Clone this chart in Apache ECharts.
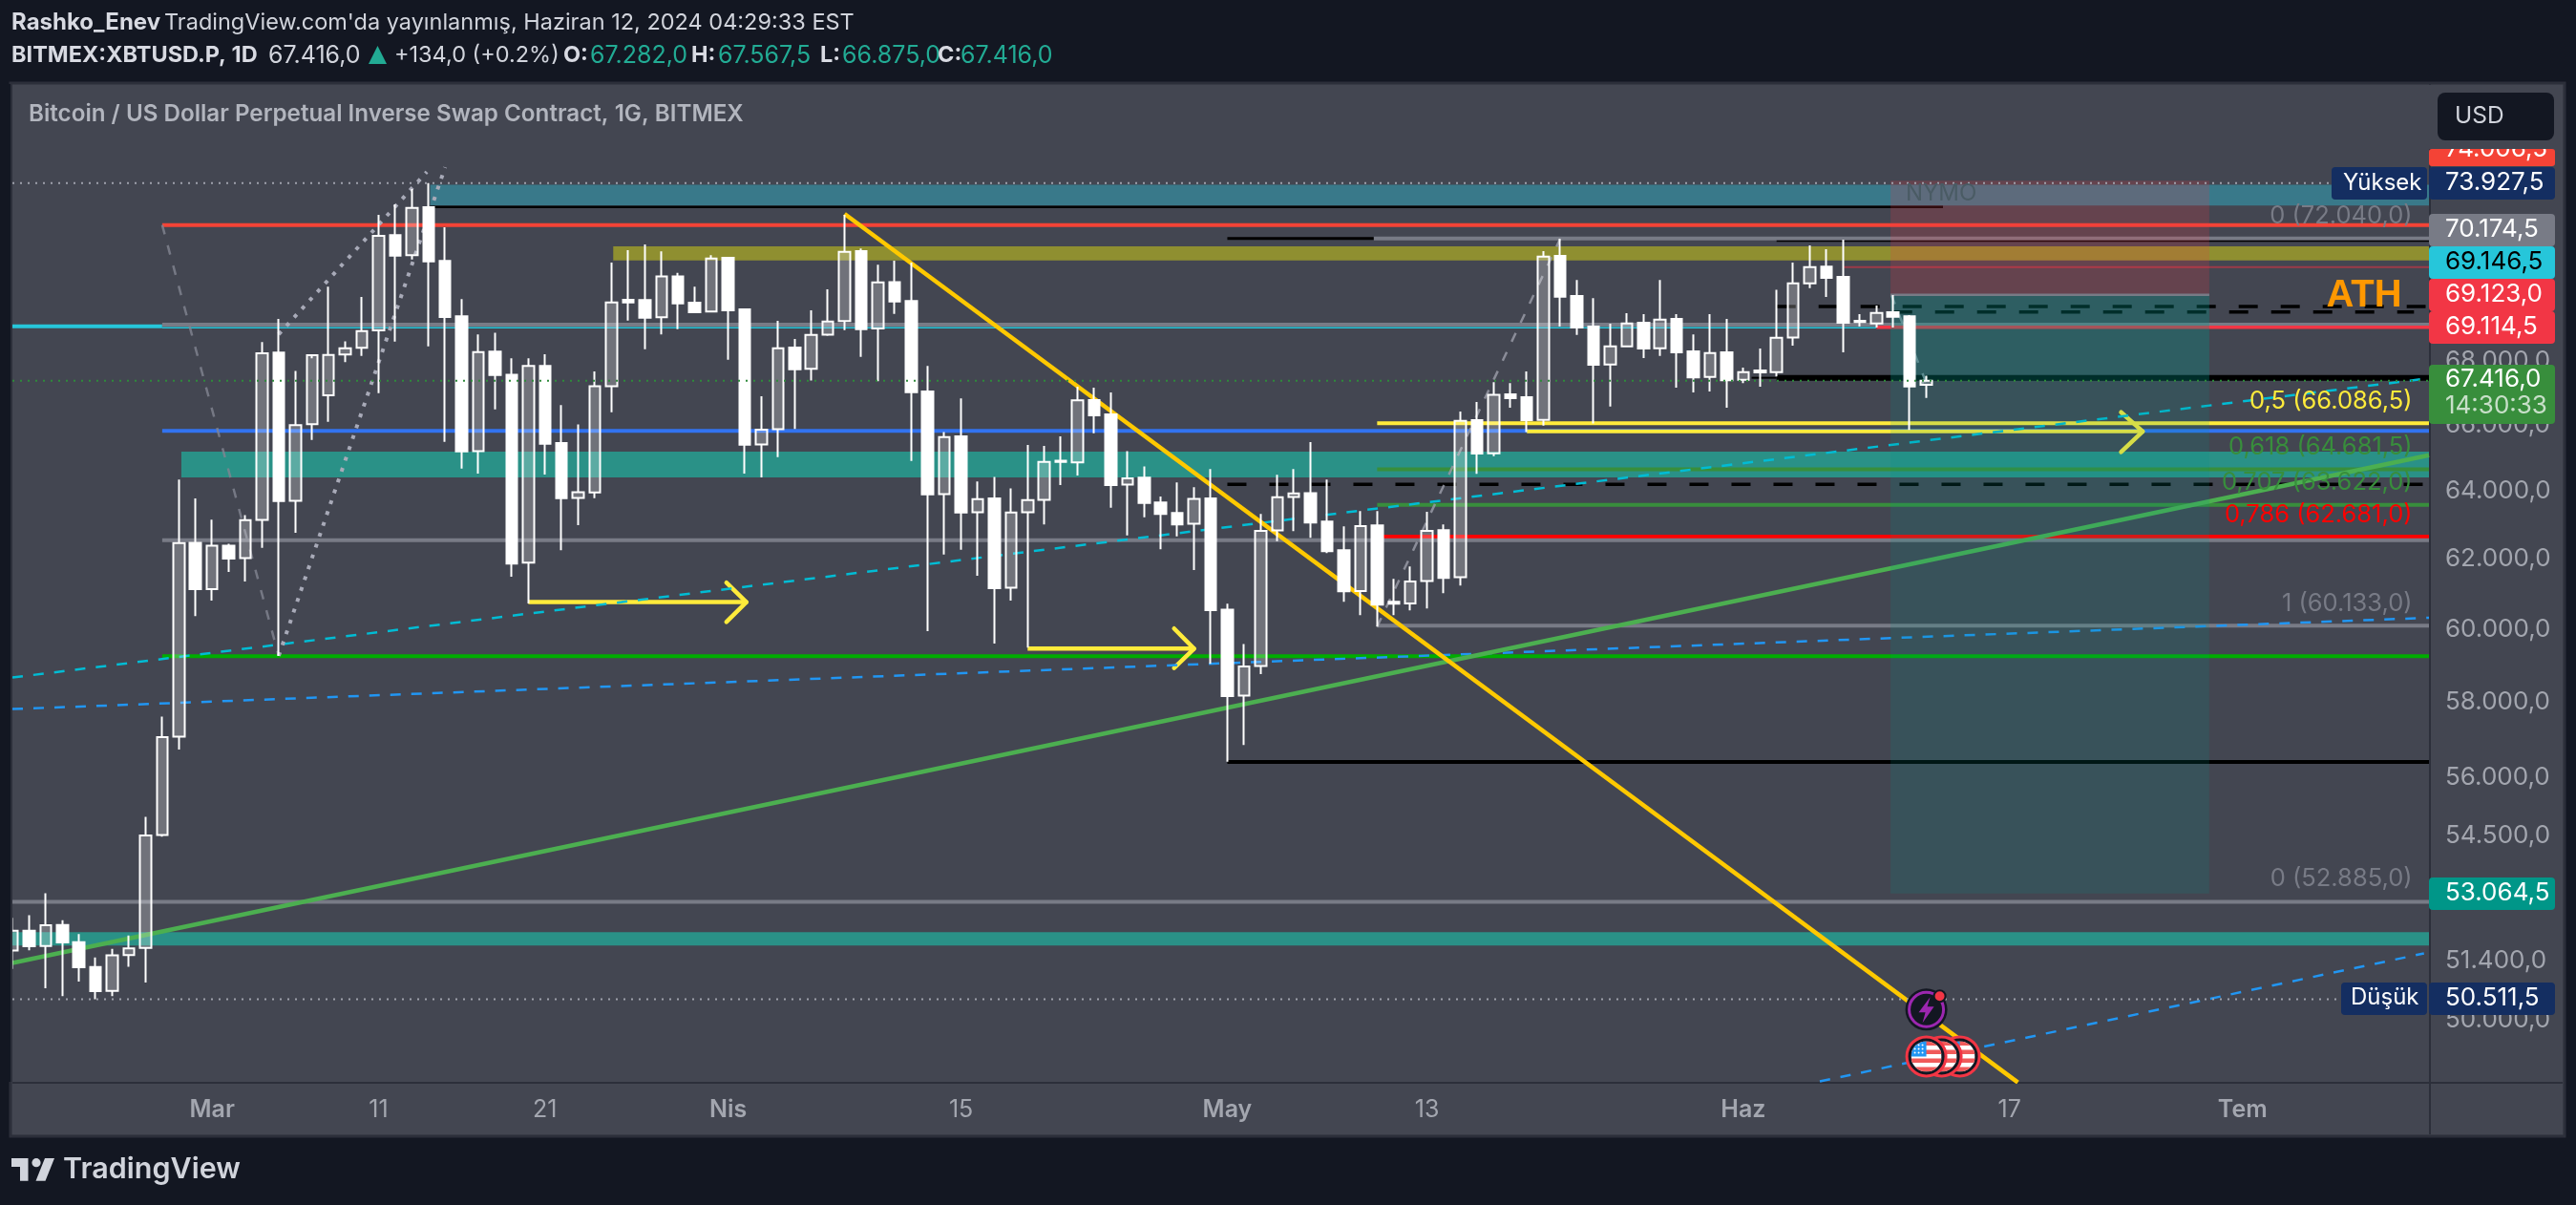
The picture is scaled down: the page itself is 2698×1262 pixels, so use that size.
<!DOCTYPE html>
<html>
<head>
<meta charset="utf-8">
<title>XBTUSD.P 1D</title>
<style>html,body{margin:0;padding:0;background:#131722}#chart{width:2698px;height:1262px}</style>
<script src="https://cdn.jsdelivr.net/npm/echarts@6/dist/echarts.min.js"></script>
</head>
<body>
<div id="chart"></div>
<script>
// daily bars, first bar 2024-02-18, last bar 2024-06-12
var startDate = "2024-02-18";
var opens = [51672,52154,51783,52293,51875,51277,50709,51563,51734,54531,57094,62503,
    61168,62420,62058,63174,68302,63742,66063,66954,68241,68454,69013,72150,71480,73101,71289,69470,65237,68333,67604,61928,67878,65478,63827,63986,67242,70007,69998,69439,70774,69914,69625,
    71394,69697,65440,65906,68463,67786,68880,69314,71616,69075,70591,69967,67073,63941,65682,63401,63807,61206,63401,63770,64946,64896,66806,66360,64225,64432,63691,63381,63060,63807,
    60581,58199,59007,62865,63856,63969,63126,62289,61113,63012,60806,60760,61396,62873,61505,66182,65168,66984,66895,66191,71458,70132,69137,67926,68503,69262,68442,69386,68342,67531,68311,67440,67735,67683,68789,70547,71099,70760,69324,69240,69603,69470,67282];
var closes = [52154,51774,52284,51865,51268,50699,51556,51725,54522,57084,62492,61168,
    62420,62047,63163,68281,63731,66034,68221,68229,68442,68991,72128,71467,73079,71276,69448,65226,68321,67592,61900,67878,65458,63816,63998,67242,69923,69923,69425,70774,69892,69603,71371,
    69666,65429,65894,68442,67774,68868,69302,71594,69053,70579,69954,67052,63929,65661,63390,63787,61195,63390,63759,64905,64905,66797,66331,64213,64412,63674,63353,63040,63799,60570,
    58189,58996,62854,63844,63958,63097,62261,61105,62992,60725,60752,61385,62854,61486,66161,65159,66975,66865,66182,71435,70110,69106,67917,68503,69240,68432,69365,68311,67522,68290,67431,67683,67674,68777,70547,71086,70728,69262,69283,69582,69458,67230,67416];
var lows = [51231,51679,50768,50585,50927,50511,50585,51284,50905,54490,56754,60398,
    60841,61658,61385,62353,59289,62798,65574,66131,67999,68199,67022,68655,71340,68503,65516,64702,64557,66517,61521,60760,64528,62289,63021,63816,66429,69333,68412,68889,69053,69600,69625,
    68077,64557,64441,65051,65915,67422,68837,69022,68168,67400,69551,64935,59979,62158,62297,61549,59634,60841,59520,63040,64213,64499,65778,63532,62715,63248,62317,62687,61714,59068,
    56434,56873,58787,62548,62845,62651,62206,60807,60425,60104,60425,60561,60617,61051,61268,64548,65080,66568,65818,66013,69137,68868,66084,66607,68473,68129,68199,67192,67043,67073,66568,67340,67222,67552,68524,70389,70101,68311,69137,69106,69106,65885,66875];
var highs = [52463,52532,53074,52409,52068,51504,51711,52036,55000,57635,64375,63807,
    63183,62475,63316,68637,69386,67725,68120,70442,68667,70101,72842,73199,73720,73927.5,72420,70029,68889,68942,68120,68120,68251,66649,66054,67704,71235,71648,71839,71607,70898,70442,71480,
    71394,69719,66925,69324,68737,69666,70349,72842,71702,71162,71299,71235,67878,65818,66856,64318,64452,64111,65420,65391,65682,67222,67192,67043,65237,64772,63864,64290,64148,64693,
    60752,59618,63353,64519,64693,65507,64375,62984,63438,63438,61459,61817,63410,63040,66449,66746,67370,67340,67704,71616,72030,70655,70060,69230,69572,69541,70655,69541,68889,69541,69386,67826,68433,70340,71235,71807,71680,71998,69541,69821,70163,69510,67567.5];

// price axis labels
var priceTicks = [68000,66000,64000,62000,60000,58000,56000,54500,53000,51400,50000];
var priceTickLabels = ["68.000,0","66.000,0","64.000,0","62.000,0","60.000,0","58.000,0","56.000,0","54.500,0","53.000,0","51.400,0","50.000,0"];
// time axis labels, days after 1 March
var timeTicks = [0,10,20,31,45,61,73,92,108,122];
var timeTickLabels = ["Mar","11","21","Nis","15","May","13","Haz","17","Tem"];
var monthLabels = ["Mar","Nis","May","Haz","Tem"];
// fib levels
var fibLevels = [72040,66086.5,64681.5,63622,62681,60133,52885];
var fibLabels = ["0 (72.040,0)","0,5 (66.086,5)","0,618 (64.681,5)","0,707 (63.622,0)","0,786 (62.681,0)","1 (60.133,0)","0 (52.885,0)"];
var fibColors = ["#787b86","#ffeb3b","#388e3c","#388e3c","#ff0000","#787b86","#787b86"];
// position tool levels
var stopPrice = 74006.5, entryPrice = 70174.5, targetPrice = 53064.5, lastPrice = 67416;
var highPrice = 73927.5, lowPrice = 50511.5;

var DAY = 86400000;
var MAR1 = Date.UTC(2024,2,1);
var dayMin = -12, dayMax = 133.2;
var FONT = "Inter";
function T(d){ return MAR1 + d*DAY; }

var candleData = [];
for(var i=0;i<opens.length;i++){
    candleData.push([Date.parse(startDate+"T00:00:00Z")+i*DAY, opens[i], closes[i], lows[i], highs[i]]);
}

var series = [];
// straight line drawn by price + day
function seg(d0,p0,d1,p1,color,width,dash,z,cap){
    series.push({
        type:"line", silent:true, animation:false, symbol:"none", z:z||3, clip:true,
        data:[[T(d0),p0],[T(d1),p1]],
        lineStyle:{color:color,width:width,type:dash||"solid",cap:cap||"butt"}
    });
}
// filled price zones
function zone(d0,d1,p0,p1,color,z){
    series.push({
        type:"custom", silent:true, animation:false, z:z||2, clip:true,
        data:[[T(d0),p0,T(d1),p1]],
        renderItem:function(params,api){
            var a = api.coord([api.value(0),api.value(1)]);
            var b = api.coord([api.value(2),api.value(3)]);
            return {type:"rect",shape:{x:a[0],y:b[1],width:b[0]-a[0],height:a[1]-b[1]},style:{fill:color}};
        }
    });
}

var GRAY = "#787b86", YELLOW = "#ffeb3b", BLACK = "#000000";
zone(13.1,dayMax,73157,73874,"#39798a");
zone(24.1,dayMax,71308,71776,"#8f8f30");
zone(-1.85,dayMax,64441,65216,"#2a9187");
zone(dayMin,dayMax,51795,52115,"#2a9187");

seg(13.1,73112,104,73112,BLACK,2.5);
seg(-3,72494,dayMax,72494,"#f44336",4);
seg(61,72040,69.8,72040,BLACK,3);
seg(69.8,72040,dayMax,72040,GRAY,4);
seg(94,71957,dayMax,71957,BLACK,1.5);
seg(98,71086,dayMax,71086,"#9c3b48",2);
seg(94,69790,133,69790,BLACK,3.5,[20,24]);
seg(101,69613,132.3,69613,BLACK,3.5,[20,24]);
seg(dayMin,69146.5,-3,69146.5,"#26c6da",4);
seg(-3,69200,dayMax,69200,GRAY,4);
seg(-3,69105,100,69105,"#26c6da",1.5);
seg(100,69114.5,dayMax,69114.5,"#f23645",3.5);
seg(92.5,67506,94,67506,BLACK,2);
seg(94,67506,dayMax,67506,BLACK,6);
seg(-3,65856,dayMax,65856,"#3273f0",4);
seg(70,66086.5,dayMax,66086.5,YELLOW,4);
seg(79,65836,116,65836,YELLOW,4);
seg(114.7,66429,116,65836,YELLOW,4.5,"solid",3,"round");
seg(116,65836,114.7,65208,YELLOW,4.5,"solid",3,"round");
seg(70,64681.5,dayMax,64681.5,"#388e3c",4);
seg(70,63622,dayMax,63622,"#388e3c",4);
seg(61,64233,133,64233,BLACK,3.5,[20,24]);
seg(70,62681,dayMax,62681,"#ff0000",4);
seg(-3,62577,dayMax,62577,GRAY,4);
seg(70,60133,dayMax,60133,GRAY,4);
seg(-3,59281,dayMax,59281,"#00ad00",4);
seg(61,56423,dayMax,56423,BLACK,4);
seg(dayMin,52861,dayMax,52861,GRAY,4);
// arrows
seg(19,60795,32.1,60795,YELLOW,4.5);
seg(30.9,61350,32.1,60795,YELLOW,4.5,"solid",3,"round");
seg(32.1,60795,30.9,60236,YELLOW,4.5,"solid",3,"round");
seg(49,59490,59,59490,YELLOW,4.5);
seg(57.8,60051,59,59490,YELLOW,4.5,"solid",3,"round");
seg(59,59490,57.8,58952,YELLOW,4.5,"solid",3,"round");
// trend lines
seg(dayMin,58693,dayMax,67490,"#00bcd4",2.5,[11,11]);
seg(dayMin,57835,dayMax,60353,"#2196f3",2.5,[11,11]);
seg(96.6,48610,132.9,51602,"#2196f3",2.5,[11,11]);
seg(dayMin,51374,dayMax,65109,"#4caf50",4.5);
seg(38,72874,108.5,48587,"#ffc900",4.5);
seg(-3,72494,4,59289,"rgba(130,133,145,.8)",2.5,[10,12]);
seg(4,59289,14,74480,"#a8aab8",4,[4,8]);
seg(4,68889,12.9,74315,"#a8aab8",4,[4,8]);
seg(70,60104,81,72030,"rgba(150,153,165,.85)",2.5,[10,12]);
seg(100.9,70156,103,67340,"rgba(150,153,165,.85)",2.5,[10,12]);
seg(102.7,67280,103.3,67793,"rgba(150,153,165,.85)",2.5,[10,12]);

// position tool
zone(100.85,120,entryPrice,stopPrice,"rgba(242,54,69,.2)",4);
zone(100.85,120,lastPrice,entryPrice,"rgba(0,150,136,.31)",4);
zone(100.85,120,targetPrice,lastPrice,"rgba(0,150,136,.16)",4);
seg(100.85,entryPrice,120,entryPrice,GRAY,2.5,"solid",4);

// candles stay on top of the drawings
series.push({
    type:"candlestick", name:"XBTUSD.P", animation:false, silent:true, z:6,
    barWidth:12,
    encode:{x:0,y:[1,2,3,4]},
    data:candleData,
    itemStyle:{color:"rgba(255,255,255,.24)",color0:"#ffffff",borderColor:"#ffffff",borderColor0:"#ffffff",borderWidth:2}
});

seg(dayMin,lastPrice,dayMax,lastPrice,"#2e8b3a",2,[2,6],7);
seg(dayMin,highPrice,127.4,highPrice,"#9fa1ac",2,[2,6],7);
seg(dayMin,lowPrice,127.9,lowPrice,"#9fa1ac",2,[2,6],7);

// price axis labels
series.push({
    type:"custom", silent:true, animation:false, z:9,
    data:priceTicks.map(function(p){ return [T(dayMax),p]; }),
    renderItem:function(params,api){
        var pt = api.coord([api.value(0),api.value(1)]);
        return {type:"text",style:{text:priceTickLabels[params.dataIndex],x:pt[0]+17,y:pt[1]-1,verticalAlign:"middle",fill:"#a3a6af",font:"26px "+FONT}};
    }
});
// time axis labels
series.push({
    type:"custom", silent:true, animation:false, z:9,
    data:timeTicks.map(function(d){ return [T(d),48600]; }),
    renderItem:function(params,api){
        var pt = api.coord([api.value(0),api.value(1)]);
        var txt = timeTickLabels[params.dataIndex];
        var bold = monthLabels.indexOf(txt)>=0;
        return {type:"text",style:{text:txt,x:pt[0],y:1162,align:"center",verticalAlign:"middle",fill:"#a3a6af",font:(bold?"600 ":"")+"25px "+FONT}};
    }
});
// fib labels
series.push({
    type:"custom", silent:true, animation:false, z:9,
    data:fibLevels.map(function(p){ return [T(132.2),p]; }),
    renderItem:function(params,api){
        var pt = api.coord([api.value(0),api.value(1)]);
        return {type:"text",style:{text:fibLabels[params.dataIndex],x:pt[0],y:pt[1]-23,align:"right",verticalAlign:"middle",fill:fibColors[params.dataIndex],font:"25.5px "+FONT}};
    }
});
// event icons under the last bar
series.push({
    type:"custom", silent:true, animation:false, z:10,
    data:[[T(103),50267,49180]],
    renderItem:function(params,api){
        var a = api.coord([api.value(0),api.value(1)]);
        var b = api.coord([api.value(0),api.value(2)]);
        var kids = [
            {type:"circle",shape:{cx:a[0],cy:a[1],r:22},style:{fill:"#131722"}},
            {type:"circle",shape:{cx:a[0],cy:a[1],r:18},style:{fill:"#131722",stroke:"#9c27b0",lineWidth:3}},
            {type:"polygon",shape:{points:[[a[0]+4,a[1]-13],[a[0]-8,a[1]+3],[a[0]-1,a[1]+3],[a[0]-4,a[1]+14],[a[0]+8,a[1]-3],[a[0]+1,a[1]-3]]},style:{fill:"#9c27b0"}},
            {type:"circle",shape:{cx:a[0]+14,cy:a[1]-14,r:6},style:{fill:"#f23645",stroke:"#131722",lineWidth:2}}
        ];
        [35,16,0].forEach(function(dx){
            var cx = b[0]+dx, cy = b[1], r = 16;
            kids.push({type:"circle",shape:{cx:cx,cy:cy,r:20.5},style:{fill:"#131722",stroke:"#f23645",lineWidth:3}});
            var flag = [{type:"rect",shape:{x:cx-r,y:cy-r,width:2*r,height:2*r},style:{fill:"#ffffff"}}];
            for(var s=0;s<4;s++){
                flag.push({type:"rect",shape:{x:cx-r,y:cy-r+s*9,width:2*r,height:4.5},style:{fill:"#f05a5a"}});
            }
            flag.push({type:"rect",shape:{x:cx-r,y:cy-r,width:r,height:r},style:{fill:"#2196f3"}});
            for(var m=0;m<3;m++){ for(var n=0;n<3;n++){
                flag.push({type:"circle",shape:{cx:cx-r+4+m*4,cy:cy-r+4+n*4,r:1},style:{fill:"#ffffff"}});
            }}
            kids.push({type:"group",children:flag,clipPath:{type:"circle",shape:{cx:cx,cy:cy,r:r}}});
        });
        return {type:"group",children:kids};
    }
});

// frame, header, price tags
var graphics = [
    {type:"rect",z:-10,shape:{x:11,y:87,width:2675,height:1103},style:{fill:"#434651",stroke:"#2c2f3a",lineWidth:3}},
    {type:"rect",z:-9,shape:{x:2544,y:88,width:2,height:1100},style:{fill:"#2c2f3a"}},
    {type:"rect",z:-9,shape:{x:13,y:1133,width:2671,height:2},style:{fill:"#2c2f3a"}},
    // first bar is cut by the left edge of the pane
    {type:"rect",z:50,shape:{x:0,y:88,width:11,height:1045},style:{fill:"#131722"}},
    {type:"rect",z:50,shape:{x:11,y:88,width:2,height:1045},style:{fill:"#2c2f3a"}}
];
function txt(s,x,y,font,fill,align){
    graphics.push({type:"text",z:60,style:{text:s,x:x,y:y,font:font,fill:fill,align:align||"left",verticalAlign:"middle"}});
}
function tag(x,y,w,h,fill,r){
    graphics.push({type:"rect",z:55,shape:{x:x,y:y,width:w,height:h,r:r||0},style:{fill:fill}});
}
txt("Rashko_Enev",12,24,"bold 24px "+FONT,"#d8dae2");
txt("TradingView.com'da yayınlanmış, Haziran 12, 2024 04:29:33 EST",172,24,"23.5px "+FONT,"#d1d4dc");
txt("BITMEX:XBTUSD.P, 1D",12,58,"bold 23.5px "+FONT,"#d8dae2");
txt("67.416,0",281,58,"25px "+FONT,"#d1d4dc");
graphics.push({type:"polygon",z:60,shape:{points:[[395.5,48],[405,67],[386,67]]},style:{fill:"#22ab94"}});
txt("+134,0 (+0.2%)",413,58,"23.5px "+FONT,"#d1d4dc");
txt("O:",590,58,"bold 23.5px "+FONT,"#d8dae2");
txt("67.282,0",618,58,"25px "+FONT,"#22ab94");
txt("H:",724,58,"bold 23.5px "+FONT,"#d8dae2");
txt("67.567,5",752,58,"25px "+FONT,"#22ab94");
txt("L:",859,58,"bold 23.5px "+FONT,"#d8dae2");
txt("66.875,0",882,58,"25px "+FONT,"#22ab94");
txt("C:",982,58,"bold 23.5px "+FONT,"#d8dae2");
txt("67.416,0",1006,58,"25px "+FONT,"#22ab94");
txt("Bitcoin / US Dollar Perpetual Inverse Swap Contract, 1G, BITMEX",30,120,"600 24.2px "+FONT,"#b2b5be");
txt("NYMO",1996,203,"24px "+FONT,"#4a5b64");
txt("ATH",2476,310,"bold 40px 'Liberation Sans'","#ff9800","center");

// price tags, stacked like the original scale
var NAVY = "#142e61";
var TAGFONT = "26px "+FONT;
tag(2544,156,132,18,"#f44336",3);
txt("74.006,5",2561,156.5,TAGFONT,"#ffffff");
tag(2544,175,132,34,NAVY,4);
txt("73.927,5",2561,191,TAGFONT,"#ffffff");
tag(2442,175,100,34,NAVY,4);
txt("Yüksek",2454,192,"24px "+FONT,"#ffffff");
tag(2544,224,132,34,GRAY,4);
txt("70.174,5",2561,240,TAGFONT,"#ffffff");
tag(2544,258,132,34,"#26c6da",4);
txt("69.146,5",2561,274,TAGFONT,"#000000");
tag(2544,292,132,34,"#f23645",4);
txt("69.123,0",2561,308,TAGFONT,"#ffffff");
tag(2544,326,132,34,"#f23645",4);
txt("69.114,5",2561,342,TAGFONT,"#ffffff");
tag(2544,382,132,62,"#388e3c",4);
txt("67.416,0",2561,397,TAGFONT,"#ffffff");
txt("14:30:33",2561,425,TAGFONT,"rgba(255,255,255,.72)");
tag(2544,919,132,34,"#009688",4);
txt("53.064,5",2561,935,TAGFONT,"#ffffff");
tag(2544,1029,132,34,NAVY,4);
txt("50.511,5",2561,1045,TAGFONT,"#ffffff");
tag(2452,1029,90,34,NAVY,4);
txt("Düşük",2462,1045,"24px "+FONT,"#ffffff");

// text above the tag is cut by the scale header
graphics.push({type:"rect",z:70,shape:{x:2544,y:89,width:140,height:67},style:{fill:"#434651"}});
graphics.push({type:"rect",z:71,shape:{x:2553,y:97,width:122,height:50,r:8},style:{fill:"#131722"}});
graphics.push({type:"text",z:72,style:{text:"USD",x:2571,y:122,font:"24.5px "+FONT,fill:"#d1d4dc",verticalAlign:"middle"}});

// TradingView logo
graphics.push({type:"polygon",z:60,shape:{points:[[12,1213],[29.5,1213],[29.5,1236.7],[21,1236.7],[21,1222],[12,1222]]},style:{fill:"#d1d4dc"}});
graphics.push({type:"circle",z:60,shape:{cx:38,cy:1217.7,r:4.6},style:{fill:"#d1d4dc"}});
graphics.push({type:"polygon",z:60,shape:{points:[[47,1213],[57,1213],[47.5,1236.7],[37.5,1236.7]]},style:{fill:"#d1d4dc"}});
txt("TradingView",66,1225,"600 30.5px "+FONT,"#d1d4dc");

var myChart = echarts.init(document.getElementById("chart"));
myChart.setOption({
    backgroundColor:"#131722",
    animation:false,
    useUTC:true,
    grid:{left:13,top:88,width:2531,height:1045,containLabel:false,show:false},
    xAxis:{type:"time",min:T(dayMin),max:T(dayMax),
        axisLine:{show:false},axisTick:{show:false},axisLabel:{show:false},splitLine:{show:false}},
    yAxis:{type:"log",logBase:10,min:48600,max:77426,position:"right",
        axisLine:{show:false},axisTick:{show:false},axisLabel:{show:false},splitLine:{show:false},minorSplitLine:{show:false}},
    graphic:{elements:graphics},
    series:series
});
</script>
</body>
</html>
